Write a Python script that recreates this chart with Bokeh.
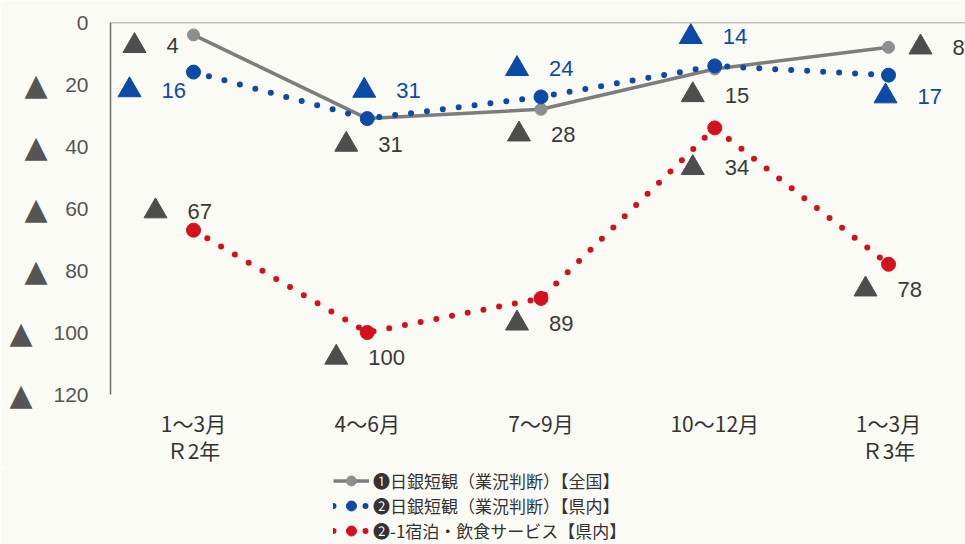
from bokeh.plotting import figure
from bokeh.models import (Range1d, FixedTicker, Span, Legend, LegendItem,
                          ColumnDataSource, LinearAxis)
from bokeh.layouts import column
from bokeh.core.properties import value
from bokeh.embed import file_html
from bokeh.resources import INLINE

# ---- data ----
periods = ["1～3月\nＲ2年", "4～6月", "7～9月", "10～12月", "1～3月\nＲ3年"]
national = [4, 31, 28, 15, 8]          # ① 日銀短観 全国 (▲ = negative)
prefecture = [16, 31, 24, 14, 17]      # ② 日銀短観 県内
lodging = [67, 100, 89, 34, 78]        # ②-1 宿泊・飲食サービス 県内
y_ticks = [0, 20, 40, 60, 80, 100, 120]
series_names = ["❶日銀短観（業況判断）【全国】",
                "❷日銀短観（業況判断）【県内】",
                "❷-1宿泊・飲食サービス【県内】"]

# ---- label placement (screen px: left edge of ▲ and vertical centre, relative to point) ----
nat_dx = [-71, -33, -34, -34, 20]
nat_dy = [11, 26, 25, 26, 0]
pref_dx = [-76, -15, -36, -36, -15]
pref_dy = [18, -28, -28, -29, 21]
lod_dx = [-50, -43, -36, -34, -35]
lod_dy = [-19, 25, 25, 40, 25]

BG = "#fbfbf6"
GRAY = "#7d7d7d"
BLUE = "#0b4aa6"
RED = "#d4101c"
DARK = "#3a3a3a"
TRI = "#4d4d4d"
NUM_FONT = "'Liberation Sans', Arial, sans-serif"

W, H = 965, 467
LEG_H = 544 - H
LEFT, TOP, BOTTOM = 110, 22, 73
X0, X1 = -0.4777, 4.443
Y0, Y1 = 120, 0
PX = (W - LEFT) / (X1 - X0)          # screen px per category
PY = (H - TOP - BOTTOM) / (Y0 - Y1)  # screen px per unit

xs = list(range(len(periods)))

p = figure(width=W, height=H, output_backend="svg", toolbar_location=None,
           x_range=Range1d(X0, X1), y_range=Range1d(Y0, Y1),
           min_border_left=LEFT, min_border_right=0, min_border_top=TOP,
           min_border_bottom=BOTTOM,
           background_fill_color=BG, border_fill_color=BG, outline_line_color=None)
p.grid.visible = False

# y axis: numbers
yax = p.yaxis[0]
yax.ticker = FixedTicker(ticks=y_ticks)
yax.major_tick_line_color = None
yax.minor_tick_line_color = None
yax.major_tick_out = 0
yax.major_tick_in = 0
yax.minor_tick_out = 0
yax.axis_label_standoff = 0
yax.axis_line_color = "#707070"
yax.axis_line_width = 1.5
yax.major_label_text_font = NUM_FONT
yax.major_label_text_font_size = "21px"
yax.major_label_text_color = "#555555"
yax.major_label_standoff = 22

# y axis: ▲ marks in front of the numbers
tri_axis = LinearAxis(ticker=FixedTicker(ticks=y_ticks),
                      major_label_overrides={t: ("" if t == 0 else ("▲\u2002" if t >= 100 else "▲"))
                                             for t in y_ticks},
                      axis_line_color=None, major_tick_line_color=None,
                      minor_tick_line_color=None, major_tick_out=0, major_tick_in=0,
                      minor_tick_out=0, axis_label_standoff=0,
                      major_label_text_font="'DejaVu Sans'", major_label_text_font_size="30px",
                      major_label_text_color="#555555", major_label_standoff=3)
p.add_layout(tri_axis, "left")

# x axis
xax = p.xaxis[0]
xax.ticker = FixedTicker(ticks=xs)
xax.major_label_overrides = {i: lab for i, lab in enumerate(periods)}
xax.major_tick_line_color = None
xax.minor_tick_line_color = None
xax.major_tick_out = 0
xax.major_tick_in = 0
xax.minor_tick_out = 0
xax.axis_label_standoff = 0
xax.axis_line_color = None
xax.major_label_text_font = "'Liberation Sans Narrow', 'Noto Sans CJK JP', sans-serif"
xax.major_label_text_font_size = "21px"
xax.major_label_text_line_height = 0.9
xax.major_label_text_color = "#333333"
xax.major_label_standoff = 13

p.add_layout(Span(location=0, dimension="width", line_color="#8a8a8a", line_width=1.5))

# series
src = ColumnDataSource(dict(x=xs, nat=national, pref=prefecture, lod=lodging))
p.line("x", "nat", source=src, line_color=GRAY, line_width=3.5)
p.scatter("x", "nat", source=src, size=12, fill_color="#8e8e8e", line_color="#8e8e8e")
p.line("x", "pref", source=src, line_color=BLUE, line_width=6, line_dash="0 16", line_cap="round")
p.scatter("x", "pref", source=src, size=14, fill_color=BLUE, line_color=BLUE)
p.line("x", "lod", source=src, line_color=RED, line_width=6, line_dash="0 16", line_cap="round")
p.scatter("x", "lod", source=src, size=14, fill_color=RED, line_color=RED)


def add_labels(vals, dx, dy, tri_color, num_color):
    tri_x = [i + (d + 12) / PX for i, d in zip(xs, dx)]
    tri_y = [v + e / PY for v, e in zip(vals, dy)]
    s = ColumnDataSource(dict(x=xs, y=vals, tx=tri_x, ty=tri_y,
                              num=[str(v) for v in vals],
                              dx2=[d + 44 for d in dx], dy=dy))
    p.scatter("tx", "ty", source=s, marker="triangle", size=23,
              fill_color=tri_color, line_color=tri_color)
    p.text("x", "y", text="num", source=s, x_offset="dx2", y_offset="dy",
           text_align="left", text_baseline="middle", text_color=num_color,
           text_font=value(NUM_FONT), text_font_size="22px")


add_labels(national, nat_dx, nat_dy, TRI, DARK)
add_labels(prefecture, pref_dx, pref_dy, BLUE, BLUE)
add_labels(lodging, lod_dx, lod_dy, TRI, DARK)

# ---- legend strip below the chart ----
lg = figure(width=W, height=LEG_H, output_backend="svg", toolbar_location=None,
            x_range=Range1d(0, 1), y_range=Range1d(0, 1),
            min_border=0, min_border_left=LEFT, background_fill_color=BG,
            border_fill_color=BG, outline_line_color=None)
lg.axis.visible = False
lg.grid.visible = False
nan = float("nan")
blank = ColumnDataSource(dict(x=[nan], y=[nan]))
g1 = lg.line("x", "y", source=blank, line_color=GRAY, line_width=3.5)
g1c = lg.scatter("x", "y", source=blank, size=12, fill_color="#8e8e8e", line_color="#8e8e8e")
g2 = lg.line("x", "y", source=blank, line_color=BLUE, line_width=6, line_dash="0 16", line_cap="round")
g2c = lg.scatter("x", "y", source=blank, size=14, fill_color=BLUE, line_color=BLUE)
g3 = lg.line("x", "y", source=blank, line_color=RED, line_width=6, line_dash="0 16", line_cap="round")
g3c = lg.scatter("x", "y", source=blank, size=14, fill_color=RED, line_color=RED)

legend = Legend(items=[LegendItem(label=series_names[0], renderers=[g1, g1c]),
                       LegendItem(label=series_names[1], renderers=[g2, g2c]),
                       LegendItem(label=series_names[2], renderers=[g3, g3c])],
                location=(333 - LEFT, 1), orientation="vertical",
                background_fill_alpha=0, border_line_color=None,
                label_text_font="'Noto Sans CJK JP', sans-serif", label_text_font_size="17px",
                label_text_color="#333333", glyph_width=36, glyph_height=25,
                label_height=25, spacing=0, padding=0, margin=0, label_standoff=4)
lg.add_layout(legend, "center")

layout = column(p, lg, spacing=0)
open("out.html", "w").write(file_html(layout, INLINE))
